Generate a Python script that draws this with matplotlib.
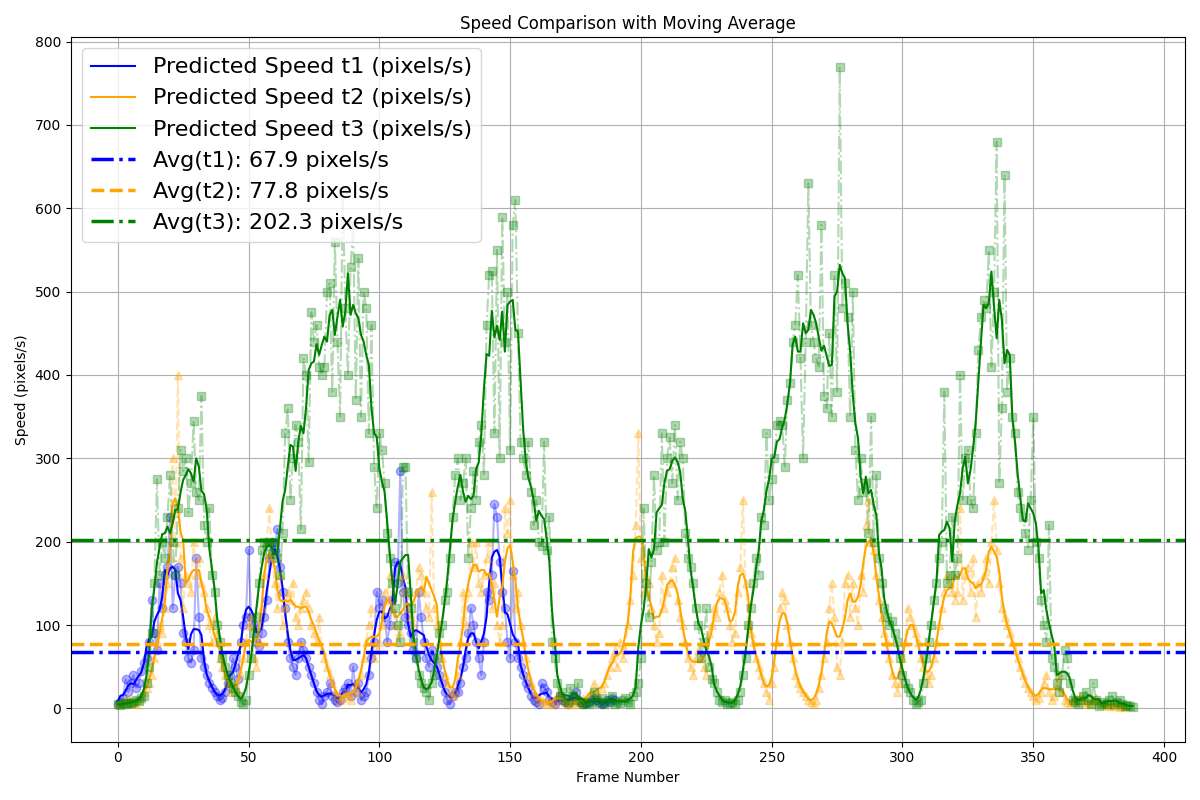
import numpy as np
import pandas as pd
import matplotlib
matplotlib.use("Agg")
import matplotlib.pyplot as plt

# raw speeds, one value per frame
speed_t1 = [5,8,12,35,20,30,40,25,30,45, 55,60,80,130,90,70,150,120,160,170,
            230,120,160,170,150,90,80,60,55,70, 180,110,60,50,40,30,25,20,15,10,
            12,20,30,40,60,50,35,80,100,110, 190,110,100,80,75,90,110,130,180,200,
            190,215,170,140,120,80,60,50,40,60, 80,70,60,50,40,30,20,10,5,15,
            20,30,15,10,8,10,20,25,30,15, 50,20,30,10,15,20,40,60,80,140,
            120,130,110,80,100,130,175,150,285,140, 110,100,90,70,60,140,110,80,60,50,
            70,60,50,40,30,20,10,5,15,20, 20,30,50,60,90,120,100,80,60,40,
            80,140,130,160,245,230,175,140,120,80, 60,165,80,60,50,40,30,25,15,10,
            8,5,30,25,20,10,8,5,10,15, 10,8,5,10,15,20,10,8,5,6,
            8,10,12,10,8,5,6,10,8,12, 10]

speed_t2 = [5,5,8,10,12,8,6,5,10,15, 20,25,30,40,60,80,100,90,120,150,
            180,300,200,400,180,120,160,150,140,200, 160,180,150,140,120,100,80,110,90,60,
            50,40,30,20,25,30,20,40,60,80, 100,110,60,50,80,120,160,200,240,180,
            150,120,160,100,120,140,130,150,110,100, 120,130,140,120,100,90,80,110,70,60,
            50,40,30,20,15,10,12,20,15,10, 20,30,20,40,60,80,100,120,60,70,
            80,100,140,130,160,120,100,80,90,160, 140,120,110,100,140,170,160,140,120,110,
            260,120,100,80,60,40,30,20,15,20, 40,80,140,100,140,200,170,200,150,140,
            160,180,200,120,150,100,80,100,240,210, 250,160,120,140,100,80,60,40,30,20,
            15,10,10,8,5,10,5,8,15,20, 10,8,5,5,8,10,5,8,12,10,
            15,20,30,20,15,25,30,40,50,60, 70,50,80,60,70,100,130,160,220,330,
            180,140,160,150,120,100,80,90,160,120, 140,150,170,180,130,110,100,80,60,50,
            40,60,70,60,50,40,90,100,120,110, 140,160,130,120,100,80,90,140,170,250,
            150,100,90,80,60,50,40,30,20,10, 30,50,80,120,140,130,100,80,60,40,
            30,25,20,15,10,8,5,10,25,40, 60,80,120,150,110,50,40,80,150,160,
            110,150,120,100,160,140,220,250,200,190, 160,130,110,90,80,60,40,30,20,30,
            60,80,120,110,100,90,80,60,50,40, 30,40,60,80,100,120,140,160,150,140,
            130,140,240,130,160,170,140,180,110,150, 140,160,180,150,200,250,190,150,120,110,
            100,90,80,70,60,50,40,30,25,20, 15,10,12,20,30,40,20,10,15,30,
            40,20,10,8,5,10,12,8,15,10, 5,8,6,10,12,8,5,6,4,3,
            5,3,4,2,3,2]

speed_t3 = [5,4,6,5,7,6,8,10,9,12, 15,30,50,90,150,275,160,200,180,230,
            280,200,160,240,310,285,300,235,270,345, 260,250,375,220,200,240,160,140,100,80,
            60,50,40,30,25,20,15,8,5,10, 40,60,90,110,150,190,200,195,200,185,
            200,180,160,210,330,360,250,300,340,320, 215,420,400,295,475,440,460,410,400,410,
            500,510,380,560,440,350,620,480,400,530, 580,370,540,350,500,480,330,460,290,240,
            330,310,270,210,180,150,120,100,80,290, 290,140,120,80,60,40,30,25,20,10,
            30,40,60,90,100,130,140,180,230,280, 300,250,270,300,180,240,285,250,320,340,
            280,460,520,525,330,550,300,590,440,500, 310,580,610,450,320,300,280,320,260,220,
            250,200,195,320,190,230,80,60,30,15, 20,10,8,25,15,10,30,8,5,6,
            5,8,20,10,6,12,5,8,10,15, 5,8,6,10,12,8,5,15,20,30,
            60,240,150,110,175,280,190,200,330,200, 300,325,270,340,250,320,300,210,180,170,
            150,120,100,60,80,120,50,35,30,20, 10,8,10,5,6,8,5,10,20,40,
            60,100,120,150,180,160,230,220,330,250, 275,300,340,345,340,290,370,390,440,460,
            520,420,300,440,630,460,440,420,410,580, 375,360,450,350,520,380,770,480,510,470,
            350,500,310,250,300,260,270,210,350,200, 280,180,150,120,110,100,105,90,80,60,
            40,30,25,20,10,5,8,10,30,60, 80,100,130,150,180,200,380,150,160,230,
            160,180,400,250,300,310,250,240,330,430, 470,490,480,550,410,500,680,270,360,640,
            380,420,350,330,260,240,230,210,190,250, 350,200,180,130,100,80,220,60,50,30,
            20,40,70,60,30,10,8,5,10,15, 20,10,5,30,10,3,5,8,5,10,
            15,5,8,10,5,3,4,3,2]

avg_t1 = 67.9
avg_t2 = 77.8
avg_t3 = 202.3

window = 5

fig, ax = plt.subplots(figsize=(12, 8), dpi=100)

series = [(speed_t1, 'blue', 'o', '-', 't1'),
          (speed_t2, 'orange', '^', '--', 't2'),
          (speed_t3, 'green', 's', '-.', 't3')]

for vals, col, mk, ls, name in series:
    frames = np.arange(len(vals))
    ax.plot(frames, vals, color=col, marker=mk, linestyle=ls, alpha=0.3, markersize=6)
    smooth = pd.Series(vals).rolling(window, center=True, min_periods=1).mean()
    ax.plot(frames, smooth, color=col, linewidth=1.5,
            label='Predicted Speed {0} (pixels/s)'.format(name))

ax.axhline(avg_t1, color='blue', linestyle='-.', linewidth=2.5, label='Avg(t1): {0} pixels/s'.format(avg_t1))
ax.axhline(avg_t2, color='orange', linestyle='--', linewidth=2.5, label='Avg(t2): {0} pixels/s'.format(avg_t2))
ax.axhline(avg_t3, color='green', linestyle='-.', linewidth=2.5, label='Avg(t3): {0} pixels/s'.format(avg_t3))

ax.set_title('Speed Comparison with Moving Average')
ax.set_xlabel('Frame Number')
ax.set_ylabel('Speed (pixels/s)')
ax.set_xlim(-18, 408)
ax.set_ylim(-40, 805)
ax.grid(True)
ax.legend(loc='upper left', fontsize=16)

plt.tight_layout()
plt.savefig('out.png')
